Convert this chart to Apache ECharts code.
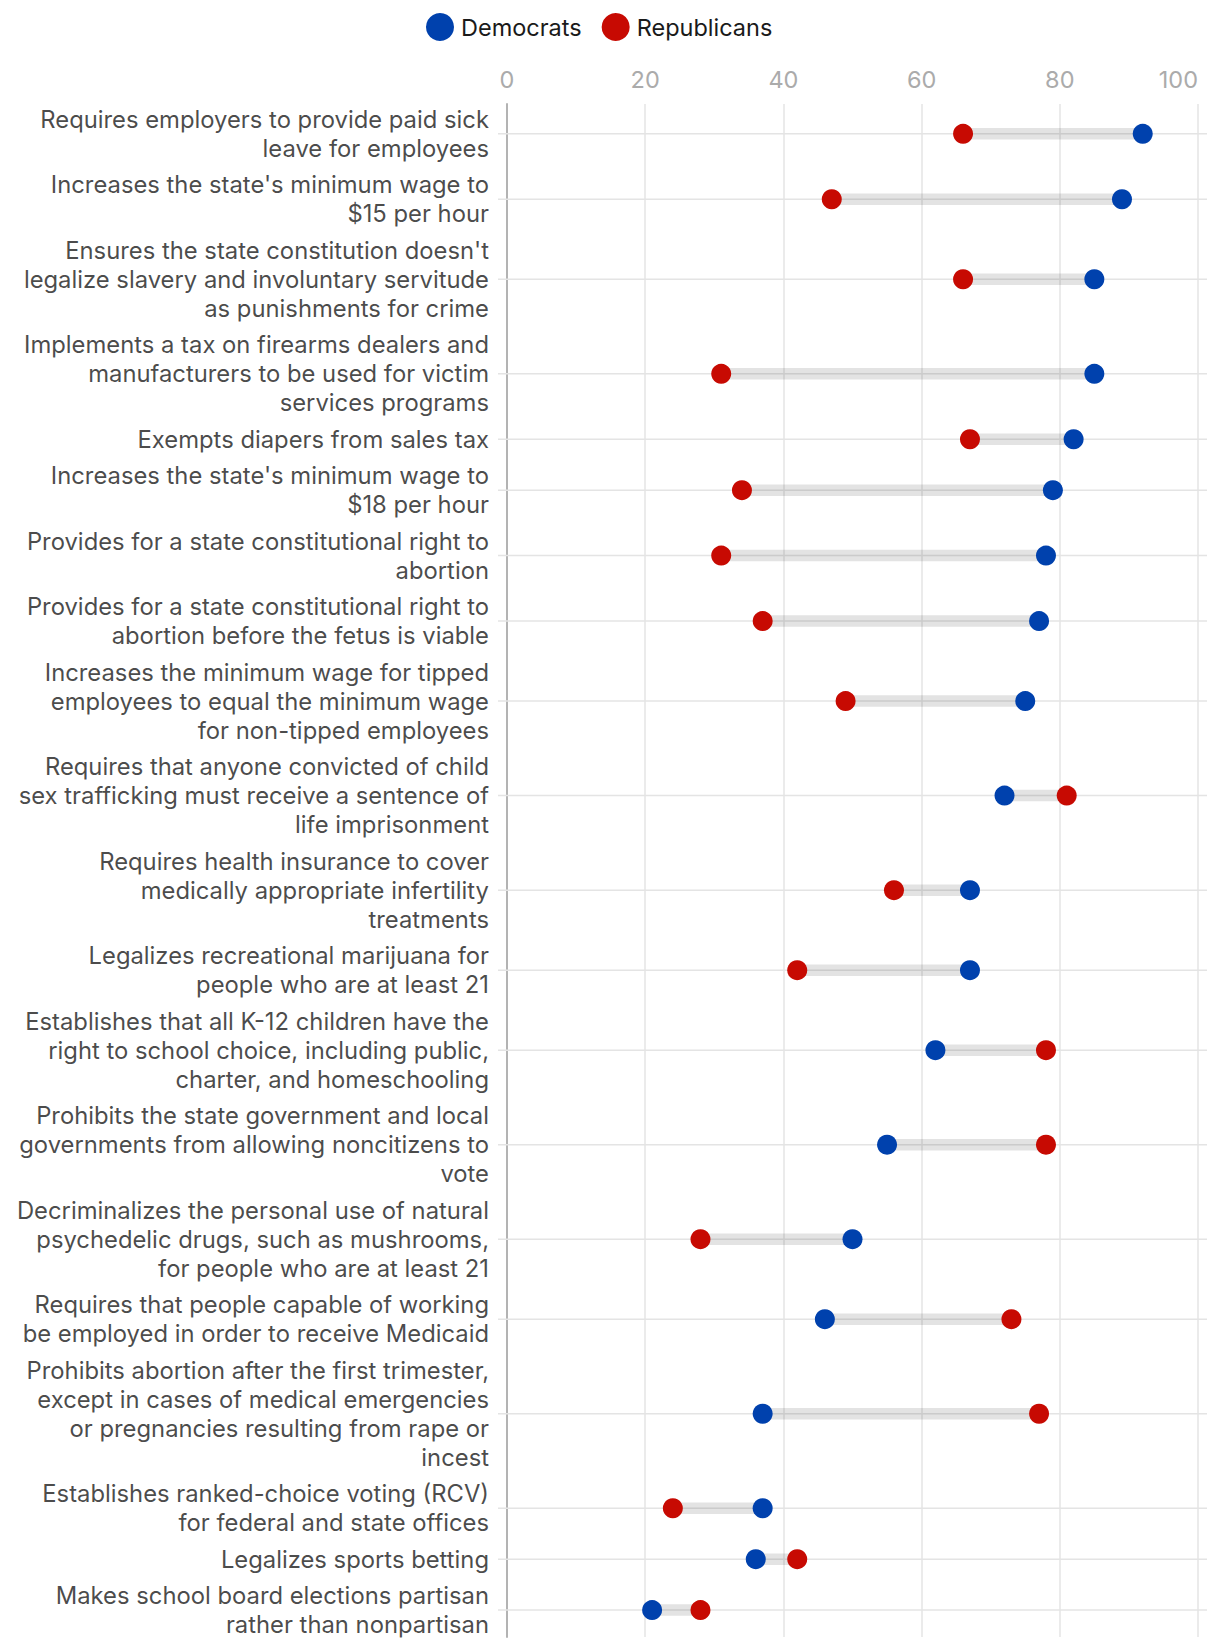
<!DOCTYPE html>
<html>
<head>
<meta charset="utf-8">
<script src="https://cdn.jsdelivr.net/npm/echarts@6/dist/echarts.min.js"></script>
<style>
html,body{margin:0;padding:0;background:#fff;}
#chart{width:1220px;height:1648px;}
</style>
</head>
<body>
<div id="chart"></div>
<script>
// Measures (label line breaks as in the reference)
var categories = [
  "Requires employers to provide paid sick\nleave for employees",
  "Increases the state's minimum wage to\n$15 per hour",
  "Ensures the state constitution doesn't\nlegalize slavery and involuntary servitude\nas punishments for crime",
  "Implements a tax on firearms dealers and\nmanufacturers to be used for victim\nservices programs",
  "Exempts diapers from sales tax",
  "Increases the state's minimum wage to\n$18 per hour",
  "Provides for a state constitutional right to\nabortion",
  "Provides for a state constitutional right to\nabortion before the fetus is viable",
  "Increases the minimum wage for tipped\nemployees to equal the minimum wage\nfor non-tipped employees",
  "Requires that anyone convicted of child\nsex trafficking must receive a sentence of\nlife imprisonment",
  "Requires health insurance to cover\nmedically appropriate infertility\ntreatments",
  "Legalizes recreational marijuana for\npeople who are at least 21",
  "Establishes that all K-12 children have the\nright to school choice, including public,\ncharter, and homeschooling",
  "Prohibits the state government and local\ngovernments from allowing noncitizens to\nvote",
  "Decriminalizes the personal use of natural\npsychedelic drugs, such as mushrooms,\nfor people who are at least 21",
  "Requires that people capable of working\nbe employed in order to receive Medicaid",
  "Prohibits abortion after the first trimester,\nexcept in cases of medical emergencies\nor pregnancies resulting from rape or\nincest",
  "Establishes ranked-choice voting (RCV)\nfor federal and state offices",
  "Legalizes sports betting",
  "Makes school board elections partisan\nrather than nonpartisan"
];
// Support (%) by party
var democrats   = [92, 89, 85, 85, 82, 79, 78, 77, 75, 72, 67, 67, 62, 55, 50, 46, 37, 37, 36, 21];
var republicans = [66, 47, 66, 31, 67, 34, 31, 37, 49, 81, 56, 42, 78, 78, 28, 73, 77, 24, 42, 28];
var xTicks = [0, 20, 40, 60, 80, 100];
var seriesNames = ["Democrats", "Republicans"];

// Row positions on a value axis: each row takes (number of label lines + padding) units
var ROW_PAD = 0.25;
var rowPos = [];
var cum = 0;
categories.forEach(function (c) {
  var h = c.split("\n").length + ROW_PAD;
  rowPos.push(cum + h / 2);
  cum += h;
});
var totalUnits = cum;

var DEM_COLOR = "#0041AD";
var REP_COLOR = "#C70A02";
var FONT = "Inter, 'Noto Sans', sans-serif";
var FS = 23.8;

var chart = echarts.init(document.getElementById("chart"), null, {renderer: "svg"});

var option = {
  animation: false,
  backgroundColor: "#ffffff",
  textStyle: {fontFamily: FONT},
  legend: {
    data: [
      {name: seriesNames[0], icon: "circle"},
      {name: seriesNames[1], icon: "circle"}
    ],
    top: 8,
    left: 421,
    itemWidth: 28,
    itemHeight: 28,
    itemGap: 20,
    textStyle: {fontSize: 23.5, color: "#1a1a1a", fontFamily: FONT, padding: [0, 0, 0, 2]},
    selectedMode: false
  },
  grid: {left: 507, right: 22, top: 104, bottom: 11, containLabel: false},
  xAxis: {
    type: "value",
    position: "top",
    min: xTicks[0],
    max: xTicks[xTicks.length - 1],
    interval: 20,
    axisLine: {show: false},
    axisTick: {show: false},
    axisLabel: {
      color: "#ababab",
      fontSize: 23.5,
      fontFamily: FONT,
      margin: 13,
      alignMaxLabel: "right"
    },
    splitLine: {show: true, lineStyle: {color: "#e4e4e4", width: 1.5}}
  },
  yAxis: {
    type: "value",
    inverse: true,
    min: 0.1,
    max: totalUnits - 0.2,
    axisLine: {show: true, onZero: false, lineStyle: {color: "#b3b3b3", width: 2}},
    axisTick: {show: false},
    axisLabel: {show: false},
    splitLine: {show: false}
  },
  series: [
    {
      name: "rows",
      type: "custom",
      silent: true,
      clip: false,
      z: 1,
      encode: {x: [1, 2], y: 0},
      data: rowPos.map(function (y, i) { return [y, democrats[i], republicans[i]]; }),
      renderItem: function (params, api) {
        var y = api.value(0);
        var pD = api.coord([api.value(1), y]);
        var pR = api.coord([api.value(2), y]);
        var cs = params.coordSys;
        return {
          type: "group",
          children: [
            {
              type: "line",
              shape: {x1: cs.x - 9, y1: pD[1], x2: cs.x + cs.width + 9, y2: pD[1]},
              style: {stroke: "#e4e4e4", lineWidth: 1.5}
            },
            {
              type: "line",
              shape: {x1: pD[0], y1: pD[1], x2: pR[0], y2: pR[1]},
              style: {stroke: "rgba(0,0,0,0.11)", lineWidth: 11.5}
            }
          ]
        };
      }
    },
    {
      name: "labels",
      type: "scatter",
      silent: true,
      clip: false,
      symbolSize: 0,
      z: 2,
      data: rowPos.map(function (y, i) { return {value: [0, y], name: categories[i]}; }),
      label: {
        show: true,
        position: "left",
        distance: 18,
        formatter: function (p) { return p.name; },
        fontSize: FS,
        lineHeight: 29,
        color: "#1a1a1a",
        fontFamily: FONT,
        align: "right"
      }
    },
    {
      name: seriesNames[0],
      type: "scatter",
      symbol: "circle",
      symbolSize: 20,
      z: 3,
      itemStyle: {color: DEM_COLOR, opacity: 1},
      data: rowPos.map(function (y, i) { return [democrats[i], y]; })
    },
    {
      name: seriesNames[1],
      type: "scatter",
      symbol: "circle",
      symbolSize: 20,
      z: 3,
      itemStyle: {color: REP_COLOR, opacity: 1},
      data: rowPos.map(function (y, i) { return [republicans[i], y]; })
    }
  ]
};
chart.setOption(option);
</script>
</body>
</html>
